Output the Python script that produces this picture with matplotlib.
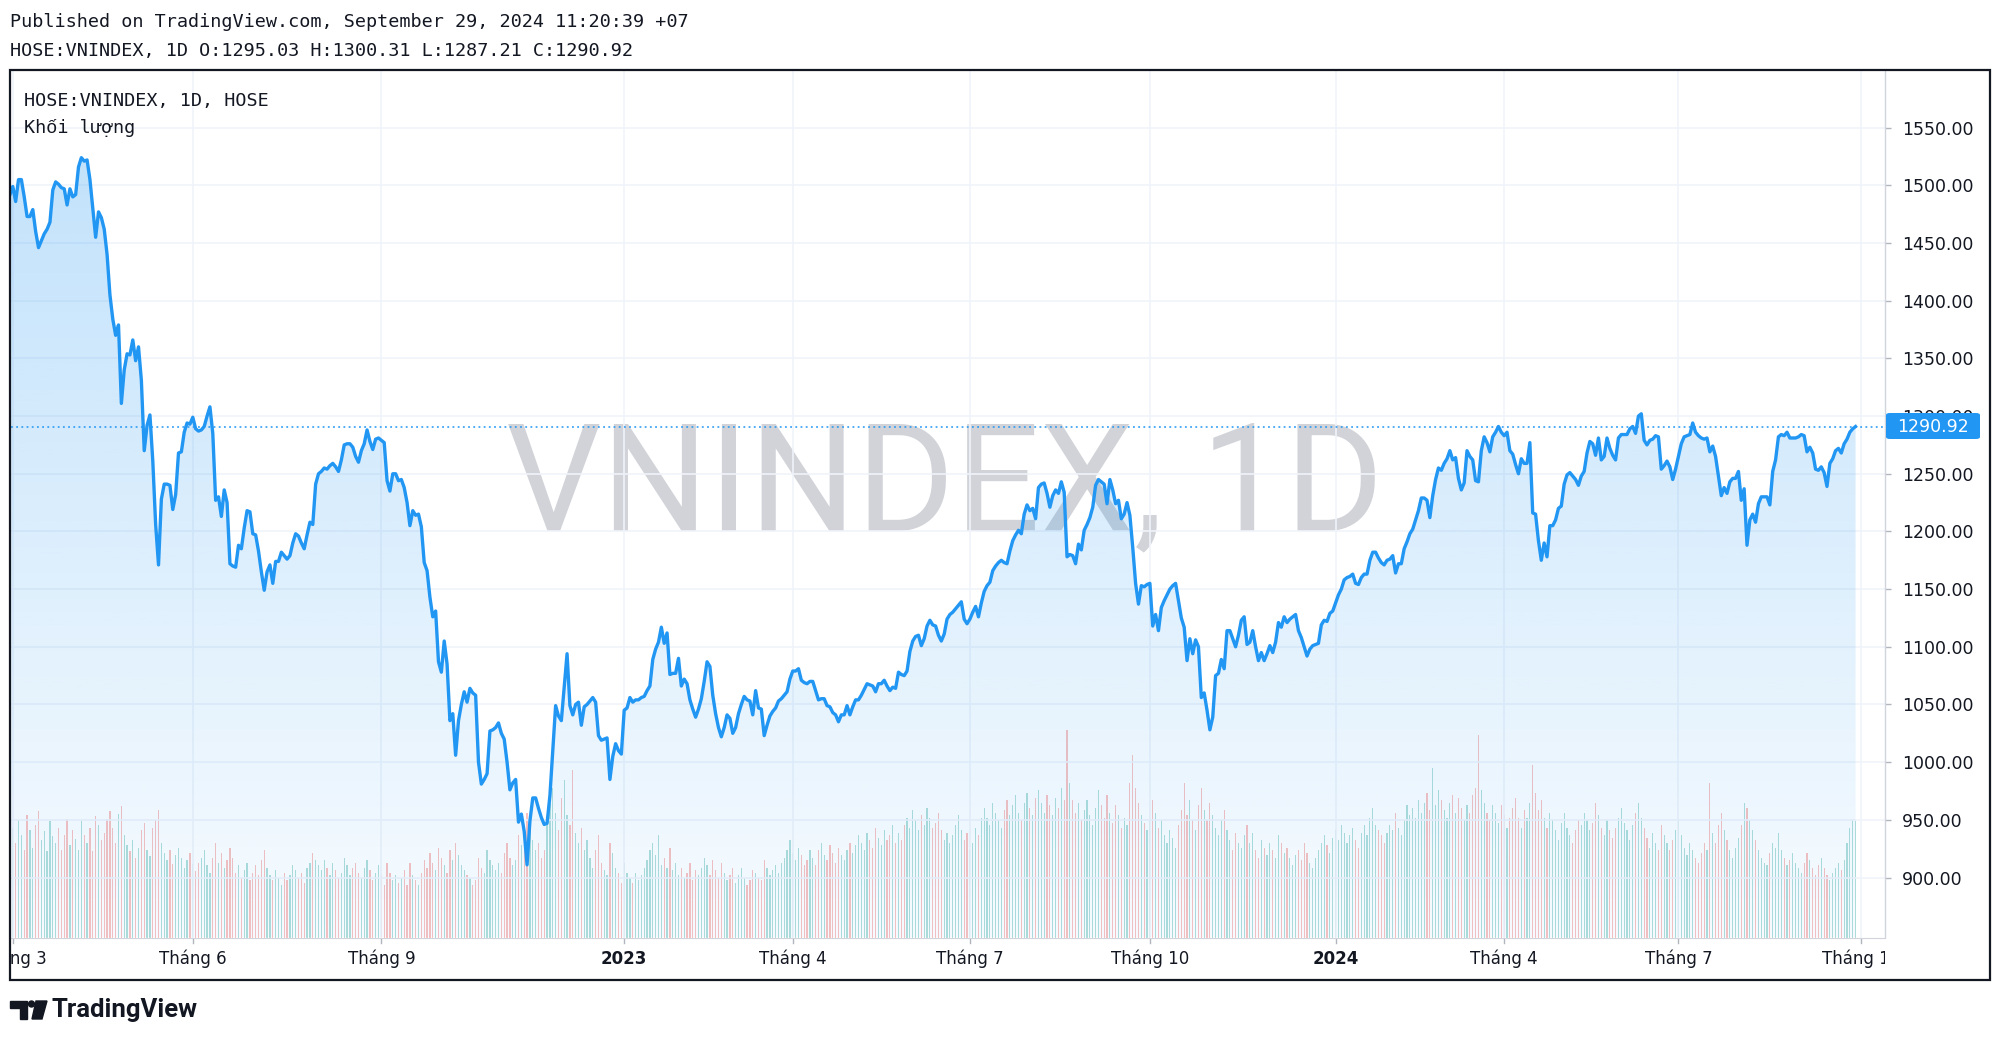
import numpy as np
import pandas as pd
import matplotlib
matplotlib.use("Agg")
import matplotlib.pyplot as plt
from matplotlib.patches import Polygon, Rectangle, FancyBboxPatch, Ellipse
from matplotlib.colors import to_rgb
from matplotlib.ticker import FuncFormatter

# ---- data ----
# daily closes, 2022-02-28 .. 2024-09-27 (HOSE trading days)
closes = [
    1492,
    1499, 1486, 1505, 1505, 1490, 1473, 1473, 1479, 1460, 1446,
    1452, 1458, 1462, 1468, 1496, 1503, 1501, 1498, 1497, 1483,
    1497, 1490, 1492, 1516, 1524, 1521, 1522, 1505, 1480, 1455,
    1477, 1472, 1462, 1440, 1405, 1384, 1370, 1379, 1311, 1340,
    1354, 1353, 1366, 1348, 1360, 1331, 1270, 1292, 1301, 1261,
    1206, 1171, 1228, 1241, 1241, 1240, 1219, 1232, 1268, 1269,
    1286, 1294, 1293, 1299, 1289, 1287, 1288, 1291, 1300, 1308,
    1285, 1227, 1230, 1213, 1236, 1225, 1172, 1170, 1169, 1188,
    1185, 1203, 1218, 1217, 1198, 1197, 1183, 1165, 1149, 1165,
    1171, 1155, 1174, 1174, 1182, 1179, 1176, 1179, 1190, 1198,
    1196, 1190, 1185, 1197, 1208, 1206, 1241, 1250, 1252, 1255,
    1254, 1257, 1259, 1256, 1252, 1262, 1275, 1276, 1276, 1273,
    1265, 1260, 1270, 1276, 1288, 1278, 1271, 1280, 1281, 1279,
    1277, 1244, 1235, 1250, 1250, 1244, 1245, 1238, 1225, 1205,
    1218, 1214, 1215, 1204, 1173, 1166, 1143, 1126, 1131, 1087,
    1078, 1105, 1085, 1036, 1042, 1006, 1036, 1050, 1061, 1052,
    1064, 1060, 1058, 1000, 981, 985, 990, 1027, 1028, 1030,
    1034, 1025, 1020, 1000, 976, 982, 985, 948, 955, 940,
    911, 949, 969, 969, 960, 952, 946, 947, 971, 1010,
    1049, 1040, 1036, 1065, 1094, 1049, 1041, 1050, 1052, 1032,
    1048, 1050, 1053, 1056, 1052, 1023, 1019, 1020, 1021, 985,
    1005, 1016, 1010, 1007, 1045, 1047, 1056, 1052, 1054, 1054,
    1056, 1057, 1062, 1066, 1089, 1098, 1104, 1117, 1103, 1112,
    1076, 1077, 1077, 1090, 1066, 1072, 1068, 1054, 1046, 1039,
    1046, 1055, 1070, 1087, 1083, 1058, 1042, 1030, 1022, 1030,
    1041, 1038, 1025, 1030, 1042, 1050, 1057, 1054, 1053, 1041,
    1062, 1047, 1046, 1023, 1032, 1040, 1044, 1047, 1053, 1055,
    1058, 1061, 1072, 1079, 1079, 1081, 1071, 1069, 1068, 1070,
    1070, 1062, 1054, 1055, 1055, 1049, 1048, 1043, 1041, 1035,
    1041, 1041, 1049, 1041, 1048, 1054, 1054, 1058, 1063, 1068,
    1067, 1066, 1061, 1068, 1068, 1071, 1066, 1062, 1065, 1064,
    1078, 1076, 1075, 1079, 1096, 1105, 1109, 1110, 1101, 1107,
    1118, 1123, 1119, 1118, 1110, 1105, 1111, 1124, 1128, 1130,
    1133, 1136, 1139, 1124, 1120, 1124, 1130, 1135, 1126, 1138,
    1148, 1153, 1156, 1166, 1170, 1173, 1175, 1173, 1172, 1183,
    1192, 1197, 1201, 1198, 1215, 1223, 1218, 1220, 1211, 1238,
    1241, 1242, 1233, 1221, 1231, 1236, 1233, 1243, 1234, 1178,
    1180, 1179, 1172, 1189, 1184, 1201, 1206, 1212, 1221, 1240,
    1245, 1243, 1241, 1224, 1245, 1236, 1224, 1227, 1211, 1215,
    1225, 1214, 1186, 1155, 1137, 1153, 1152, 1154, 1155, 1118,
    1128, 1114, 1134, 1140, 1145, 1150, 1153, 1155, 1140, 1125,
    1117, 1088, 1107, 1094, 1106, 1100, 1056, 1060, 1045, 1028,
    1039, 1075, 1077, 1089, 1081, 1114, 1114, 1107, 1100, 1110,
    1123, 1126, 1102, 1104, 1114, 1100, 1088, 1095, 1088, 1094,
    1101, 1095, 1104, 1121, 1117, 1126, 1121, 1124, 1126, 1128,
    1114, 1108, 1100, 1092, 1098, 1101, 1102, 1103, 1119, 1123,
    1122, 1129, 1131, 1138, 1145, 1150, 1158, 1160, 1161, 1163,
    1155, 1154, 1160, 1163, 1163, 1175, 1182, 1182, 1177, 1173,
    1171, 1175, 1176, 1179, 1164, 1172, 1172, 1185, 1191, 1198,
    1202, 1210, 1218, 1229, 1229, 1227, 1212, 1231, 1245, 1255,
    1253, 1259, 1263, 1270, 1262, 1264, 1246, 1236, 1242, 1270,
    1265, 1262, 1244, 1243, 1270, 1282, 1277, 1269, 1282, 1286,
    1291, 1286, 1283, 1286, 1270, 1267, 1258, 1250, 1263, 1259,
    1259, 1277, 1216, 1215, 1192, 1175, 1190, 1178, 1205, 1205,
    1210, 1220, 1222, 1241, 1249, 1251, 1248, 1245, 1240, 1248,
    1252, 1268, 1278, 1276, 1266, 1281, 1262, 1265, 1281, 1272,
    1266, 1262, 1281, 1284, 1284, 1284, 1289, 1291, 1285, 1300,
    1302, 1279, 1275, 1279, 1280, 1283, 1282, 1254, 1257, 1261,
    1256, 1245, 1254, 1265, 1276, 1282, 1283, 1284, 1294, 1286,
    1283, 1281, 1280, 1281, 1269, 1274, 1265, 1248, 1231, 1238,
    1233, 1243, 1246, 1246, 1252, 1227, 1237, 1188, 1210, 1215,
    1208, 1224, 1230, 1230, 1230, 1223, 1252, 1262, 1282, 1284,
    1283, 1286, 1281, 1281, 1281, 1282, 1284, 1283, 1269, 1273,
    1268, 1254, 1253, 1256, 1251, 1239, 1259, 1263, 1270, 1272,
    1268, 1276, 1280, 1286, 1289, 1290.92,
]

# daily volume, million shares
volumes = [
    820,
    880, 760, 940, 820, 700, 980, 860, 720, 900, 1010,
    780, 850, 690, 930, 810, 760, 880, 700, 820, 950,
    740, 860, 790, 700, 930, 820, 760, 880, 690, 970,
    900, 780, 840, 950, 1010, 880, 760, 990, 1050, 820,
    740, 690, 780, 640, 720, 860, 920, 700, 650, 880,
    940, 1020, 760, 680, 620, 700, 590, 660, 720, 640,
    560, 620, 680, 590, 530, 600, 640, 700, 580, 520,
    640, 760, 600, 680, 560, 620, 720, 640, 520, 580,
    480, 540, 600, 460, 520, 580, 500, 620, 700, 560,
    500, 460, 540, 480, 420, 520, 460, 500, 580, 540,
    480, 520, 440, 560, 600, 680, 620, 580, 540, 620,
    560, 500, 600, 540, 480, 520, 640, 580, 500, 560,
    600, 520, 480, 560, 620, 540, 460, 520, 580, 500,
    420, 600, 520, 460, 500, 440, 480, 540, 420, 600,
    500, 460, 420, 520, 620, 560, 680, 600, 540, 720,
    640, 580, 520, 700, 620, 760, 660, 580, 540, 500,
    480, 420, 460, 640, 560, 520, 700, 620, 580, 540,
    600, 520, 680, 760, 640, 580, 620, 820, 740, 880,
    1000, 860, 780, 700, 760, 640, 700, 920, 1080, 1200,
    1000, 860, 1120, 1260, 980, 900, 1340, 840, 760, 880,
    700, 780, 640, 560, 700, 820, 600, 540, 500, 760,
    680, 560, 520, 440, 600, 520, 480, 440, 520, 460,
    500, 560, 620, 700, 760, 660, 820, 580, 640, 560,
    720, 540, 600, 500, 560, 480, 520, 600, 460, 540,
    500, 560, 640, 580, 500, 620, 540, 480, 600, 520,
    460, 500, 560, 440, 500, 560, 480, 420, 460, 540,
    520, 480, 460, 620, 560, 500, 540, 580, 520, 600,
    640, 700, 780, 680, 620, 720, 660, 580, 620, 700,
    640, 580, 700, 760, 660, 620, 740, 680, 600, 720,
    660, 620, 700, 760, 680, 740, 820, 760, 700, 840,
    780, 720, 880, 800, 740, 860, 780, 820, 900, 760,
    840, 780, 900, 960, 880, 1020, 940, 860, 980, 900,
    1040, 960, 880, 920, 1000, 860, 780, 840, 760, 820,
    900, 980, 860, 780, 840, 700, 760, 880, 820, 960,
    1040, 960, 900, 1080, 1000, 940, 880, 1020, 1100, 980,
    1060, 1140, 1000, 940, 1080, 1160, 1040, 980, 1120, 1180,
    1080, 1000, 1140, 1060, 980, 1120, 1040, 1200, 1100, 1660,
    1240, 1100, 1000, 1080, 940, 1020, 1100, 980, 900, 1040,
    1180, 1060, 960, 1140, 1000, 920, 1060, 980, 880, 960,
    900, 1240, 1460, 1200, 1080, 980, 920, 860, 940, 1100,
    1000, 880, 940, 820, 760, 860, 800, 720, 900, 1020,
    1240, 980, 1100, 940, 860, 1060, 1200, 1020, 940, 1080,
    980, 880, 820, 940, 1020, 860, 780, 700, 840, 760,
    720, 820, 900, 760, 840, 700, 640, 780, 720, 660,
    760, 700, 640, 820, 760, 680, 720, 640, 580, 660,
    700, 620, 760, 680, 600, 560, 640, 700, 760, 820,
    740, 680, 800, 860, 780, 900, 840, 760, 820, 880,
    780, 720, 840, 900, 820, 960, 1040, 900, 860, 820,
    760, 840, 900, 860, 1000, 880, 820, 940, 1060, 980,
    1040, 960, 1100, 1000, 1080, 1160, 1020, 1360, 1060, 1180,
    1100, 1020, 960, 1080, 1140, 1000, 1120, 1040, 940, 1060,
    1000, 1140, 1200, 1620, 1180, 1080, 1000, 940, 1060, 1000,
    920, 1060, 980, 880, 960, 1040, 1120, 960, 880, 1020,
    960, 1080, 1380, 1160, 1020, 1100, 960, 880, 1000, 940,
    860, 780, 920, 1000, 880, 820, 760, 860, 940, 900,
    1000, 940, 860, 920, 1080, 980, 880, 820, 940, 860,
    800, 880, 960, 1040, 920, 860, 780, 900, 1000, 1080,
    960, 880, 800, 720, 840, 760, 700, 900, 820, 760,
    700, 780, 860, 940, 820, 720, 660, 760, 700, 640,
    600, 680, 760, 700, 1240, 840, 760, 900, 1000, 860,
    780, 700, 640, 720, 800, 900, 1080, 1040, 940, 860,
    780, 700, 640, 600, 580, 680, 760, 720, 840, 700,
    640, 580, 620, 680, 600, 560, 520, 600, 680, 620,
    560, 500, 580, 640, 560, 500, 460, 520, 560, 600,
    540, 620, 760, 880, 940, 930,
]

holidays = ["2022-04-11", "2022-05-02", "2022-05-03", "2022-09-01", "2022-09-02",
            "2023-01-02", "2023-01-20", "2023-01-23", "2023-01-24", "2023-01-25",
            "2023-01-26", "2023-05-01", "2023-05-02", "2023-05-03", "2023-09-01",
            "2023-09-04", "2024-01-01", "2024-02-08", "2024-02-09", "2024-02-12",
            "2024-02-13", "2024-02-14", "2024-04-18", "2024-04-29", "2024-04-30",
            "2024-05-01", "2024-09-02", "2024-09-03"]

month_ticks = ["2022-03", "2022-06", "2022-09", "2023-01", "2023-04", "2023-07",
               "2023-10", "2024-01", "2024-04", "2024-07", "2024-10"]
month_labels = ["Tháng 3", "Tháng 6", "Tháng 9", "2023", "Tháng 4", "Tháng 7",
                "Tháng 10", "2024", "Tháng 4", "Tháng 7", "Tháng 10"]

price_ticks = [900, 950, 1000, 1050, 1100, 1150, 1200, 1250, 1300,
               1350, 1400, 1450, 1500, 1550]
last_price = 1290.92

published = "Published on TradingView.com, September 29, 2024 11:20:39 +07"
ohlc_text = "HOSE:VNINDEX, 1D O:1295.03 H:1300.31 L:1287.21 C:1290.92"
legend_lines = ["HOSE:VNINDEX, 1D, HOSE", "Khối lượng"]
watermark = "VNINDEX, 1D"

# ---- layout helpers (pixel -> figure fraction) ----
W, H = 2000, 1039
def fx(x):
    return x / W
def fy(y):
    return 1 - y / H

LINE = "#2196f3"
TXT = "#131722"
GRID = "#f0f3fa"
SEP = "#d1d4dc"
MONO = ["DejaVu Sans Mono", "Liberation Mono", "DejaVu Sans"]

# trading calendar -> bar index for month ticks
cal = pd.bdate_range("2022-02-28", "2024-10-31").difference(pd.to_datetime(holidays))
tick_pos = [int(np.searchsorted(cal, pd.Timestamp(m + "-01"))) for m in month_ticks]

x = np.arange(len(closes))
closes = np.array(closes, dtype=float)
volumes = np.array(volumes, dtype=float)

bar_px = 2.857
x_left = tick_pos[0] - (12.8 - 11) / bar_px
x_right = x_left + (1885 - 11) / bar_px
y_lo, y_hi = 848.0, 1600.0

fig = plt.figure(figsize=(W / 100, H / 100), dpi=100)
fig.patch.set_facecolor("white")

rect = [fx(11), fy(937.5), (1885 - 11) / W, (937.5 - 70) / H]
ax_vol = fig.add_axes(rect)
ax = fig.add_axes(rect, sharex=ax_vol)
ax_vol.set_zorder(0)
ax.set_zorder(1)
ax.patch.set_visible(False)

# volume
up = np.r_[True, closes[1:] >= closes[:-1]]
vcol = np.where(up, "#26a69a", "#ef5350")
ax_vol.bar(x, volumes, width=0.42, color=vcol, alpha=0.36, linewidth=0)
ax_vol.set_ylim(0, 867.5 * 8)
ax_vol.axis("off")

# price area with gradient
ax.set_xlim(x_left, x_right)
ax.set_ylim(y_lo, y_hi)
n = 256
grad = np.zeros((n, 1, 4))
grad[..., :3] = to_rgb(LINE)
grad[:, 0, 3] = np.linspace(0.30, 0.04, n)
im = ax.imshow(grad, extent=[x[0], x[-1], y_lo, y_hi], aspect="auto",
               origin="upper", zorder=2, interpolation="bilinear")
verts = np.vstack([[x[0], y_lo], np.column_stack([x, closes]), [x[-1], y_lo]])
clip = Polygon(verts, closed=True, facecolor="none", edgecolor="none",
               transform=ax.transData)
ax.add_patch(clip)
im.set_clip_path(clip)
ax.plot(x, closes, color=LINE, lw=2.4, zorder=4)
ax.set_xlim(x_left, x_right)
ax.set_ylim(y_lo, y_hi)

ax.axhline(last_price, color=LINE, lw=1.1, ls=(0, (1.2, 2.2)), zorder=3)

# grid / axes
ax.set_xticks(tick_pos)
ax.set_yticks(price_ticks)
ax.grid(True, color=GRID, lw=1.2, zorder=0)
ax.tick_params(axis="x", bottom=False, labelbottom=False)
ax.yaxis.tick_right()
ax.tick_params(axis="y", length=4.5, width=1, color="#b2b5be", pad=8,
               labelsize=12.5, labelcolor=TXT)
ax.yaxis.set_major_formatter(FuncFormatter(lambda v, p: f"{v:.2f}"))
for s in ["top", "left", "bottom"]:
    ax.spines[s].set_visible(False)
ax.spines["right"].set_color(SEP)
ax.spines["right"].set_linewidth(1)

# watermark
ax.text(fx(506), fy(530), watermark, transform=fig.transFigure,
        family=["Roboto", "Liberation Sans"], fontsize=108,
        color="#d1d3d8", ha="left", va="baseline", zorder=1)

# legend text in pane
ax.text(fx(24), fy(101), legend_lines[0], transform=fig.transFigure,
        family=MONO, fontsize=13.3, color=TXT, va="center")
ax.text(fx(24), fy(128), legend_lines[1], transform=fig.transFigure,
        family=MONO, fontsize=13.3, color=TXT, va="center")

# time axis strip
ax_t = fig.add_axes([fx(11), fy(979.6), (1885 - 11) / W, (979.6 - 937.5) / H],
                    sharex=ax)
ax_t.set_ylim(0, 1)
ax_t.set_xlim(x_left, x_right)
for s in ["left", "right", "bottom"]:
    ax_t.spines[s].set_visible(False)
ax_t.spines["top"].set_color(SEP)
ax_t.set_yticks([])
ax_t.tick_params(axis="x", bottom=False, labelbottom=False)
for p, lab in zip(tick_pos, month_labels):
    bold = lab.isdigit()
    ax_t.text(p, 0.5, lab, ha="center", va="center", fontsize=12,
              color=TXT, fontweight="bold" if bold else "normal", clip_on=True)
    ax_t.plot([p, p], [0.86, 1.0], color="#b2b5be", lw=1, clip_on=True)

# last price label
fig.add_artist(FancyBboxPatch((fx(1886), fy(439)), 94 / W, 26 / H,
                              boxstyle="round,pad=0,rounding_size=0.002",
                              transform=fig.transFigure, facecolor=LINE,
                              edgecolor="none", zorder=5))
fig.text(fx(1933), fy(426.5), f"{last_price:.2f}", color="white", fontsize=12.5,
         ha="center", va="center", zorder=6)

# outer frame
fig.add_artist(Rectangle((fx(10), fy(980)), 1980 / W, 910 / H,
                         transform=fig.transFigure, fill=False,
                         edgecolor=TXT, lw=1.6, zorder=7))

# header texts
fig.text(fx(10), fy(22), published, family=MONO, fontsize=13.3,
         color=TXT, va="center")
fig.text(fx(10), fy(51), ohlc_text, family=MONO, fontsize=13.3,
         color=TXT, va="center")

# TradingView logo
fig.add_artist(Polygon([(fx(10), fy(1001)), (fx(27), fy(1001)), (fx(27), fy(1019)),
                        (fx(20), fy(1019)), (fx(20), fy(1008)), (fx(10), fy(1008))],
                       closed=True, transform=fig.transFigure, color=TXT))
fig.add_artist(Ellipse((fx(31.5), fy(1004)), 6 / W, 6 / H,
                       transform=fig.transFigure, color=TXT))
fig.add_artist(Polygon([(fx(36), fy(1001)), (fx(47), fy(1001)), (fx(42), fy(1019)),
                        (fx(32), fy(1019))],
                       closed=True, transform=fig.transFigure, color=TXT))
fig.text(fx(51), fy(1010), "TradingView", family="Roboto", fontweight="bold",
         fontsize=18.5, color=TXT, va="center", ha="left")

fig.savefig("out.png", dpi=100, facecolor="white")
